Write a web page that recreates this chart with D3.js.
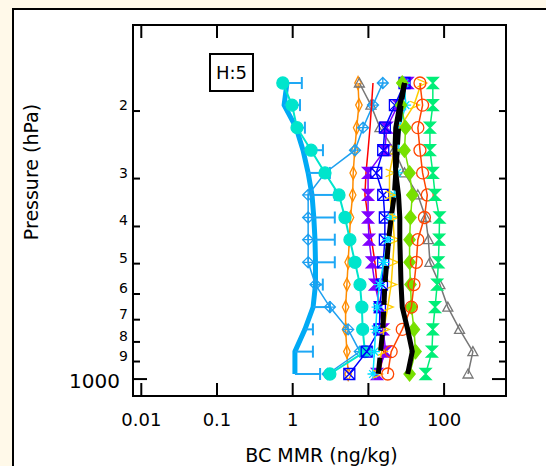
<!DOCTYPE html>
<html><head><meta charset="utf-8">
<script src="https://cdn.jsdelivr.net/npm/d3@7"></script>
<style>html,body{margin:0;padding:0;background:#FFF9E9;}svg{display:block;}</style>
</head><body>
<script>
// ---------- data ----------
const levels = [169, 193, 221, 253, 290, 331, 379, 433, 496, 567, 649, 742, 848, 970]; // hPa, top -> bottom
const obsMean   = [0.84, 0.77, 1.11, 1.37, 1.6, 1.8, 1.9, 1.97, 2.0, 2.0, 1.86, 1.45, 1.07, 1.07];
const obsUpper  = [1.32, 1.25, 1.45, 2.51, 3.1, 3.6, 3.6, 3.6, 3.6, 2.5, 3.1, 1.85, 1.85, 2.3];
const turqCirc  = [0.74, 0.98, 1.14, 1.75, 2.67, 4.09, 4.9, 5.7, 6.65, 7.74, 8.2, 8.4, 9.0, 3.1];
const ltBlueDia = [15.5, 11.5, 8.5, 6.65, 2.67, 1.6, 1.6, 1.6, 1.6, 2.0, 3.1, 5.4, 7.7, 2.9];
const orangeDia = [7.3, 7.5, 7.0, 6.6, 6.3, 6.2, 5.8, 5.6, 5.4, 5.2, 5.0, 5.0, 5.2, 5.4];
const grayTri   = [7.6, 10.8, 14.2, 22, 30, 45, 57, 62, 65, 88, 112, 160, 240, 207];
const redLine   = [11.5, 11, 10.5, 9.9, 9.3, 9.0, 9.9, 11, 12.2, 13, 14, 15.7, 16, 14];
const purpleBow = [33, 24.6, 17.5, 16.5, 9.9, 9.9, 9.9, 10.2, 11.1, 12.2, 14.2, 15.6, 17, 13];
const blueBoxX  = [30, 22.4, 16.5, 15.7, 12.7, 15.7, 16.5, 16.5, 15.7, 15.1, 14.2, 14, 9.5, 5.6];
const blackSolid= [30, 26, 23, 22.4, 23, 25, 26, 26, 26.5, 27, 28, 33, 38, 33];
const blackDash = [30, 27, 25, 24, 23, 22, 20, 18.5, 17.5, 16.5, 16, 15.5, 14.5, 13.5];
const cyanStar  = [30, 31, 26, 25, 24, 22, 20, 18, 16, 14, 13, 12.5, 12, 11.5];
const goldTri   = [50, 40, 26, 22, 19, 19, 21, 22, 21, 20, 18, 16, 15, 13];
const greenDia  = [28, 27, 31, 30, 35, 38, 36, 35, 35, 36, 37, 40, 42, 35];
const redCirc   = [48, 52, 45, 48, 52, 60, 55, 45, 43, 40, 37, 28, 20, 18];
const springBow = [71, 71, 65, 65, 71, 76, 87, 86, 84, 81, 76, 71, 69, 57];

const xTicks = [0.01, 0.1, 1, 10, 100];
const xTickLabels = ["0.01", "0.1", "1", "10", "100"];
const yTicks = [200, 300, 400, 500, 600, 700, 800, 900, 1000];
const yTickLabels = ["2", "3", "4", "5", "6", "7", "8", "9", "1000"];

// ---------- layout ----------
const W = 546, H = 466;
const svg = d3.select("body").append("svg").attr("width", W).attr("height", H);
svg.append("rect").attr("x", 0).attr("y", 0).attr("width", W).attr("height", H).attr("fill", "#FFF9E9");
svg.append("rect").attr("x", 13).attr("y", 9).attr("width", 560).attr("height", 500)
  .attr("fill", "#fff").attr("stroke", "#000").attr("stroke-width", 2);

const L = 133, R = 506, T = 25, B = 396;
const x = d3.scaleLog().domain([0.00777, 657.3]).range([L, R]);
const y = d3.scaleLog().domain([119.3, 1107]).range([T, B]);

const plot = svg.append("g");
svg.append("clipPath").attr("id", "c").append("rect").attr("x", L).attr("y", T).attr("width", R - L).attr("height", B - T);

// ---------- marker shapes ----------
function sym(type, s) {
  const h = s / 2;
  switch (type) {
    case "circle": return d3.symbol(d3.symbolCircle, s * s * 0.78)();
    case "diamond": return `M0,${-h}L${h * 0.8},0L0,${h}L${-h * 0.8},0Z`;
    case "diamondThin": return `M0,${-h}L${h * 0.5},0L0,${h}L${-h * 0.5},0Z`;
    case "diamondCross": return `M0,${-h}L${h},0L0,${h}L${-h},0ZM0,${-h}V${h}M${-h},0H${h}`;
    case "triUp": return `M0,${-h}L${h},${h * 0.8}L${-h},${h * 0.8}Z`;
    case "triRight": return `M${-h * 0.7},${-h * 0.7}L${h},0L${-h * 0.7},${h * 0.7}`;
    case "bowtie": return `M${-h},${-h}L${h},${-h}L0,0L${h},${h}L${-h},${h}L0,0Z`;
    case "boxX": return `M${-h},${-h}H${h}V${h}H${-h}ZM${-h},${-h}L${h},${h}M${h},${-h}L${-h},${h}`;
    case "star": {
      const a = h * 0.7;
      return `M0,${-h}V${h}M${-h},0H${h}M${-a},${-a}L${a},${a}M${a},${-a}L${-a},${a}`;
    }
  }
}

const series = [
  { v: orangeDia, color: "#FF8C00", w: 1.5, m: "diamondThin", fill: "none", s: 13 },
  { v: grayTri, color: "#777777", w: 1.5, m: "triUp", fill: "none", s: 10 },
  { v: ltBlueDia, color: "#1EA0F0", w: 1.5, m: "diamondCross", fill: "none", s: 11 },
  { v: redLine, color: "#FF0000", w: 1.5, m: null },
  { v: turqCirc, color: "#00E5CC", w: 2, m: "circle", fill: "#00E5CC", s: 12 },
  { v: purpleBow, color: "#8000FF", w: 1.5, m: "bowtie", fill: "#8000FF", s: 11 },
  { v: blueBoxX, color: "#0000FF", w: 1.5, m: "boxX", fill: "none", s: 11 },
  { v: cyanStar, color: "#00E0FF", w: 1.5, m: "star", fill: "none", s: 11 },
  { v: goldTri, color: "#FFCC00", w: 1.5, m: "triRight", fill: "none", s: 11 },
  { v: greenDia, color: "#77E000", w: 1.5, m: "diamond", fill: "#77E000", s: 14 },
  { v: redCirc, color: "#FF4500", w: 1.5, m: "circle", fill: "none", s: 12 },
  { v: springBow, color: "#00EE77", w: 1.5, m: "bowtie", fill: "#00EE77", s: 11 },
];

const line = d3.line().x(d => x(d[0])).y(d => y(d[1]));
const g = plot.append("g").attr("clip-path", "url(#c)");

// thick observation mean
g.append("path").datum(obsMean.map((v, i) => [v, levels[i]]))
  .attr("d", line).attr("fill", "none").attr("stroke", "#00AAF5").attr("stroke-width", 5).attr("stroke-linejoin", "round");
// error bars
obsMean.forEach((v, i) => {
  g.append("line").attr("x1", x(v)).attr("x2", x(obsUpper[i])).attr("y1", y(levels[i])).attr("y2", y(levels[i]))
    .attr("stroke", "#1EA8F5").attr("stroke-width", 2);
  g.append("line").attr("x1", x(obsUpper[i])).attr("x2", x(obsUpper[i])).attr("y1", y(levels[i]) - 6).attr("y2", y(levels[i]) + 6)
    .attr("stroke", "#1EA8F5").attr("stroke-width", 2);
});

series.forEach(sr => {
  const pts = sr.v.map((v, i) => [v, levels[i]]);
  g.append("path").datum(pts).attr("d", line).attr("fill", "none")
    .attr("stroke", sr.color).attr("stroke-width", sr.w);
  if (sr.m) {
    g.selectAll(null).data(pts).enter().append("path")
      .attr("transform", d => `translate(${x(d[0])},${y(d[1])})`)
      .attr("d", sym(sr.m, sr.s))
      .attr("fill", sr.fill).attr("stroke", sr.color).attr("stroke-width", 1.3);
  }
});

// black thick lines
g.append("path").datum(blackDash.map((v, i) => [v, levels[i]]))
  .attr("d", line).attr("fill", "none").attr("stroke", "#000").attr("stroke-width", 5).attr("stroke-dasharray", "16,7");
g.append("path").datum(blackSolid.map((v, i) => [v, levels[i]]))
  .attr("d", line).attr("fill", "none").attr("stroke", "#000").attr("stroke-width", 5).attr("stroke-linejoin", "round");

// ---------- axes ----------
const ax = svg.append("g").attr("stroke", "#000").attr("stroke-width", 2);
ax.append("rect").attr("x", L).attr("y", T).attr("width", R - L).attr("height", B - T).attr("fill", "none");
xTicks.forEach(t => {
  ax.append("line").attr("x1", x(t)).attr("x2", x(t)).attr("y1", T).attr("y2", T + 13);
  ax.append("line").attr("x1", x(t)).attr("x2", x(t)).attr("y1", B).attr("y2", B - 13);
});
yTicks.forEach(t => {
  const len = t === 1000 ? 14 : 7;
  ax.append("line").attr("x1", L).attr("x2", L + len).attr("y1", y(t)).attr("y2", y(t));
  ax.append("line").attr("x1", R).attr("x2", R - len).attr("y1", y(t)).attr("y2", y(t));
});

const font = "DejaVu Sans, sans-serif";
xTicks.forEach((t, i) => {
  svg.append("text").attr("x", x(t)).attr("y", 426).attr("text-anchor", "middle")
    .attr("font-family", font).attr("font-size", 18).text(xTickLabels[i]);
});
yTicks.forEach((t, i) => {
  const big = t === 1000;
  svg.append("text").attr("x", big ? 120 : 128).attr("y", y(t) + (big ? 9 : -1))
    .attr("text-anchor", "end").attr("font-family", font).attr("font-size", big ? 20 : 14)
    .text(yTickLabels[i]);
});
svg.append("text").attr("x", (L + R) / 2 + 2).attr("y", 462).attr("text-anchor", "middle")
  .attr("font-family", font).attr("font-size", 19).text("BC MMR (ng/kg)");
svg.append("text").attr("transform", "translate(38,172) rotate(-90)").attr("text-anchor", "middle")
  .attr("font-family", font).attr("font-size", 19).text("Pressure (hPa)");

// label box
svg.append("rect").attr("x", 210).attr("y", 54).attr("width", 43).attr("height", 37)
  .attr("fill", "#fff").attr("stroke", "#000").attr("stroke-width", 2);
svg.append("text").attr("x", 231.5).attr("y", 79).attr("text-anchor", "middle")
  .attr("font-family", font).attr("font-size", 18).text("H:5");
</script>
</body></html>
